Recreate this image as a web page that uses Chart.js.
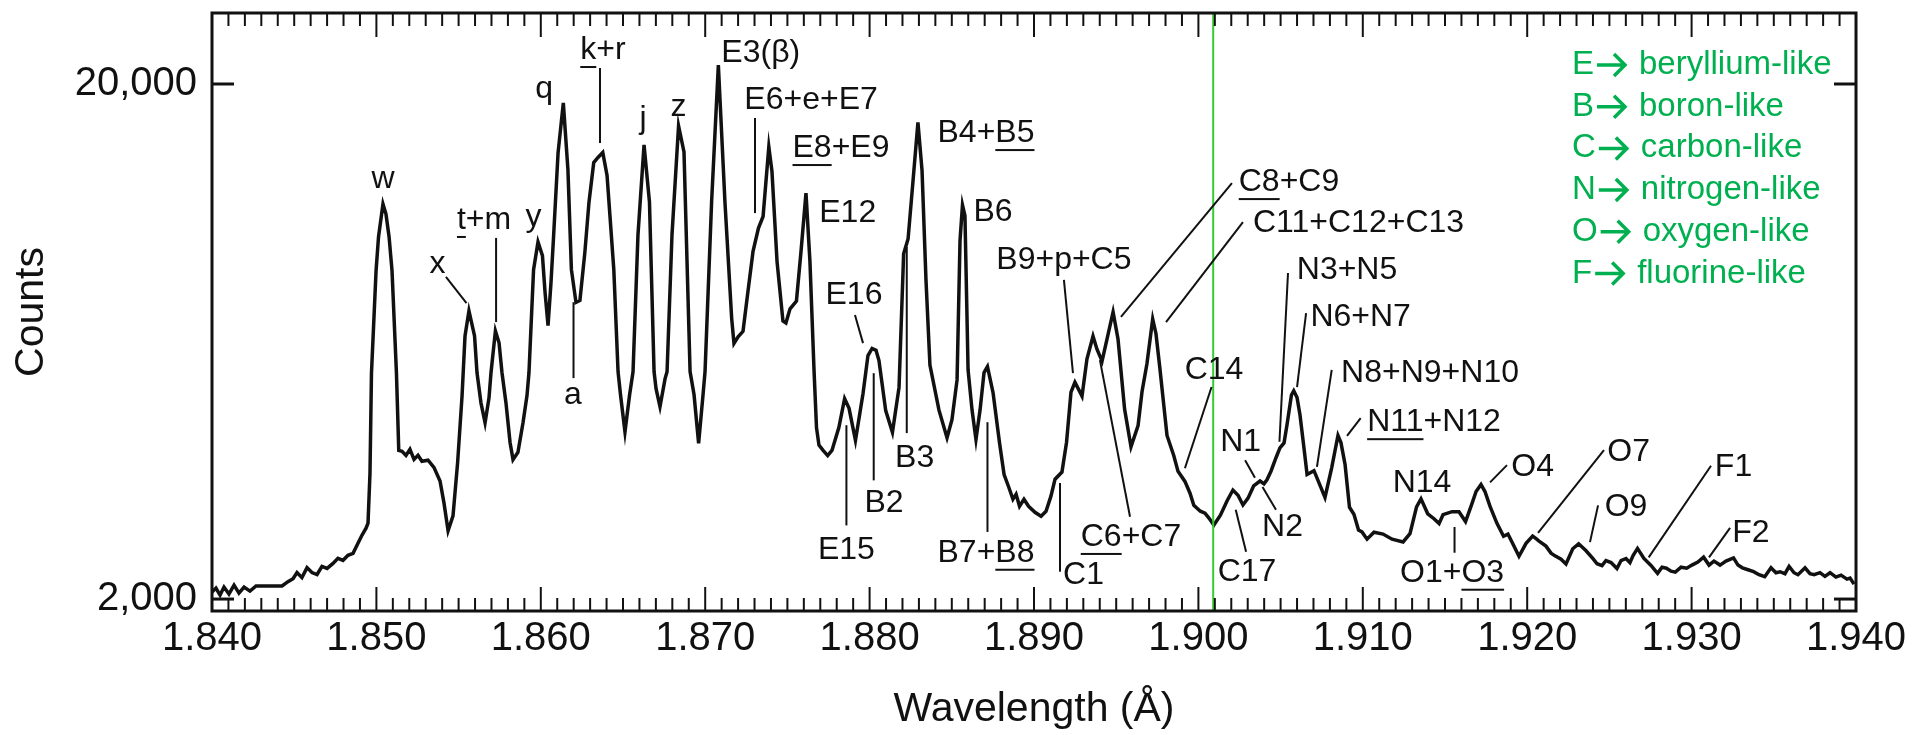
<!DOCTYPE html>
<html>
<head>
<meta charset="utf-8">
<script src="https://cdn.jsdelivr.net/npm/chart.js@4.4.1/dist/chart.umd.min.js"></script>
<style>
  html, body { margin: 0; padding: 0; background: #fff; }
  #wrap { width: 1916px; height: 735px; }
</style>
</head>
<body>
<div id="wrap"><canvas id="spectrum" width="1916" height="735"></canvas></div>
<script>
// ── Spectrum data (wavelength in Å, counts) ───────────────
const wavelength = [
  1.84000, 1.84024, 1.84049, 1.84073, 1.84103, 1.84134, 1.84164, 1.84195, 1.84231, 1.84268,
  1.84353, 1.84426, 1.84462, 1.84493, 1.84517, 1.84547, 1.84578, 1.84608, 1.84639, 1.84669,
  1.84700, 1.84736, 1.84766, 1.84797, 1.84827, 1.84858, 1.84882, 1.84912, 1.84937, 1.84949,
  1.84961, 1.84970, 1.84998, 1.85013, 1.85040, 1.85058, 1.85077, 1.85095, 1.85122, 1.85136,
  1.85156, 1.85180, 1.85204, 1.85229, 1.85253, 1.85277, 1.85314, 1.85350, 1.85387, 1.85411,
  1.85436, 1.85466, 1.85494, 1.85521, 1.85539, 1.85563, 1.85597, 1.85612, 1.85636, 1.85661,
  1.85685, 1.85697, 1.85724, 1.85746, 1.85764, 1.85788, 1.85813, 1.85831, 1.85861, 1.85892,
  1.85916, 1.85928, 1.85956, 1.85983, 1.86010, 1.86026, 1.86044, 1.86062, 1.86078, 1.86105,
  1.86137, 1.86165, 1.86186, 1.86214, 1.86238, 1.86268, 1.86293, 1.86322, 1.86348, 1.86377,
  1.86403, 1.86444, 1.86470, 1.86485, 1.86512, 1.86540, 1.86561, 1.86591, 1.86628, 1.86661,
  1.86689, 1.86701, 1.86725, 1.86756, 1.86768, 1.86798, 1.86838, 1.86871, 1.86908, 1.86932,
  1.86960, 1.86987, 1.86999, 1.87039, 1.87080, 1.87120, 1.87161, 1.87175, 1.87200, 1.87230,
  1.87260, 1.87291, 1.87324, 1.87352, 1.87387, 1.87406, 1.87437, 1.87473, 1.87491, 1.87516,
  1.87555, 1.87583, 1.87613, 1.87637, 1.87662, 1.87677, 1.87692, 1.87717, 1.87745, 1.87771,
  1.87813, 1.87848, 1.87875, 1.87914, 1.87960, 1.87990, 1.88015, 1.88039, 1.88057, 1.88098,
  1.88139, 1.88179, 1.88207, 1.88234, 1.88264, 1.88294, 1.88319, 1.88343, 1.88367, 1.88422,
  1.88471, 1.88501, 1.88532, 1.88550, 1.88565, 1.88580, 1.88599, 1.88623, 1.88647, 1.88672,
  1.88696, 1.88717, 1.88751, 1.88790, 1.88818, 1.88845, 1.88872, 1.88891, 1.88912, 1.88939,
  1.88967, 1.89006, 1.89043, 1.89073, 1.89103, 1.89128, 1.89170, 1.89198, 1.89225, 1.89249,
  1.89292, 1.89322, 1.89359, 1.89383, 1.89414, 1.89444, 1.89481, 1.89511, 1.89551, 1.89590,
  1.89633, 1.89657, 1.89687, 1.89722, 1.89742, 1.89766, 1.89809, 1.89850, 1.89876, 1.89918,
  1.89949, 1.89972, 1.90012, 1.90040, 1.90064, 1.90094, 1.90134, 1.90174, 1.90210, 1.90241,
  1.90271, 1.90302, 1.90336, 1.90375, 1.90399, 1.90417, 1.90442, 1.90472, 1.90496, 1.90521,
  1.90539, 1.90566, 1.90580, 1.90600, 1.90618, 1.90642, 1.90661, 1.90703, 1.90728, 1.90770,
  1.90811, 1.90849, 1.90867, 1.90892, 1.90919, 1.90946, 1.90974, 1.90995, 1.91026, 1.91068,
  1.91123, 1.91178, 1.91245, 1.91287, 1.91327, 1.91354, 1.91395, 1.91433, 1.91464, 1.91488,
  1.91543, 1.91585, 1.91625, 1.91664, 1.91689, 1.91719, 1.91743, 1.91774, 1.91816, 1.91856,
  1.91883, 1.91911, 1.91950, 1.91993, 1.92033, 1.92054, 1.92072, 1.92114, 1.92145, 1.92169,
  1.92206, 1.92236, 1.92277, 1.92313, 1.92358, 1.92400, 1.92425, 1.92455, 1.92479, 1.92510,
  1.92546, 1.92571, 1.92601, 1.92625, 1.92644, 1.92671, 1.92710, 1.92753, 1.92793, 1.92820,
  1.92847, 1.92875, 1.92901, 1.92936, 1.92970, 1.93002, 1.93038, 1.93073, 1.93106, 1.93136,
  1.93173, 1.93209, 1.93255, 1.93282, 1.93309, 1.93343, 1.93377, 1.93410, 1.93445, 1.93483,
  1.93513, 1.93538, 1.93568, 1.93593, 1.93623, 1.93647, 1.93690, 1.93720, 1.93745, 1.93781,
  1.93811, 1.93842, 1.93878, 1.93909, 1.93945, 1.93964, 1.93988
];

const counts = [
  2063, 2100, 2036, 2110, 2045, 2129, 2054, 2110, 2072, 2120,
  2120, 2120, 2162, 2191, 2251, 2201, 2302, 2252, 2232, 2314,
  2294, 2346, 2400, 2378, 2432, 2454, 2544, 2660, 2746, 2808,
  3510, 5484, 8684, 10106, 11700, 11196, 10106, 8684, 5484, 3888,
  3872, 3802, 3906, 3734, 3802, 3702, 3720, 3604, 3390, 3074,
  2714, 2902, 3680, 4960, 6482, 7254, 6484, 5498, 4808, 4400,
  4918, 5500, 6632, 6288, 5500, 4812, 4028, 3730, 3854, 4404,
  4968, 5500, 8722, 9870, 9284, 7872, 6790, 8230, 10150, 14704,
  18384, 13640, 8730, 7534, 7602, 9422, 11776, 14080, 14400, 14724,
  13292, 8736, 5520, 4980, 4224, 4980, 5522, 10178, 15240, 11794,
  5524, 5122, 4726, 5358, 5526, 10186, 16580, 14758, 5528, 4990,
  4012, 4992, 5530, 11812, 21760, 11816, 7016, 6270, 6460, 6620,
  7910, 9464, 10500, 11060, 15100, 13540, 9040, 6930, 6870, 7320,
  7580, 9480, 12280, 9060, 5560, 4304, 3980, 3888, 3798, 3886,
  4306, 4900, 4692, 4064, 5014, 5940, 6132, 6080, 5810, 4644,
  4214, 5152, 9360, 10000, 12960, 16840, 13580, 8320, 5694, 4654,
  4112, 4458, 5328, 9940, 11640, 11100, 5570, 4660, 4080, 4660,
  5504, 5656, 5030, 4026, 3490, 3308, 3124, 3196, 3028, 3124,
  3028, 2948, 2896, 2962, 3168, 3418, 3528, 4032, 5042, 5272,
  4954, 5848, 6476, 6110, 5794, 6394, 7218, 6394, 4676, 3950,
  4342, 5052, 5724, 6994, 6550, 5600, 4156, 3800, 3540, 3384,
  3210, 3042, 2962, 2936, 2872, 2784, 2910, 3100, 3256, 3182,
  3046, 3140, 3316, 3390, 3348, 3408, 3546, 3762, 3932, 4020,
  4358, 4980, 5076, 4926, 4554, 3934, 3490, 3550, 3396, 3150,
  3600, 4156, 4026, 3652, 3014, 2922, 2722, 2700, 2614, 2696,
  2674, 2614, 2582, 2678, 3020, 3130, 2928, 2864, 2802, 2916,
  2956, 2956, 2828, 3064, 3234, 3338, 3234, 3026, 2806, 2648,
  2674, 2566, 2422, 2566, 2650, 2620, 2592, 2534, 2456, 2426,
  2390, 2340, 2504, 2560, 2482, 2396, 2342, 2322, 2376, 2354,
  2292, 2376, 2398, 2354, 2430, 2508, 2398, 2324, 2244, 2306,
  2296, 2266, 2256, 2306, 2296, 2328, 2360, 2412, 2328, 2370,
  2328, 2370, 2404, 2328, 2300, 2280, 2260, 2230, 2210, 2300,
  2250, 2260, 2240, 2314, 2250, 2230, 2300, 2240, 2230, 2250,
  2214, 2250, 2206, 2226, 2186, 2196, 2138
];

// ── Axes ──────────────────────────────────────────────────
const xTickValues = [1.84, 1.85, 1.86, 1.87, 1.88, 1.89, 1.90, 1.91, 1.92, 1.93, 1.94];
const xMinorStep  = 0.001;
const yTickValues = [2000, 20000];
const xRange = [1.84, 1.94];
const yRange = [1896, 27470];
const markerWavelength = 1.9009;   // green vertical line

// ── Line identifications: [text, wavelength, counts, underlined part] ──
const peakLabels = [
  ['w', 1.85040, 13080], ['x', 1.85372, 8950], ['t+m', 1.85655, 10890, 't'],
  ['y', 1.85956, 11030], ['q', 1.86020, 19560], ['k+r', 1.86378, 23280, 'k'],
  ['j', 1.86622, 17100], ['z', 1.86838, 18040], ['a', 1.86196, 4980],
  ['E3(β)', 1.87338, 22960], ['E6+e+E7', 1.87644, 18620], ['E8+E9', 1.87826, 15020, 'E8'],
  ['E12', 1.87867, 11230], ['E16', 1.87905, 7790], ['E15', 1.87859, 2490],
  ['B2', 1.88088, 3070], ['B3', 1.88274, 3760], ['B4+B5', 1.88708, 16060, 'B5'],
  ['B6', 1.88751, 11280], ['B7+B8', 1.88708, 2460, 'B8'], ['B9+p+C5', 1.89182, 9100],
  ['C1', 1.89301, 2230], ['C6+C7', 1.89590, 2640, 'C6'], ['C8+C9', 1.90551, 12900, 'C8'],
  ['C11+C12+C13', 1.90974, 10740], ['C14', 1.90095, 5560], ['C17', 1.90296, 2260],
  ['N1', 1.90257, 4040], ['N2', 1.90512, 2760], ['N3+N5', 1.90904, 8700],
  ['N6+N7', 1.90987, 7060], ['N8+N9+N10', 1.91409, 5490], ['N11+N12', 1.91433, 4410, 'N11'],
  ['N14', 1.91360, 3360], ['O1+O3', 1.91543, 2250, 'O3'], ['O4', 1.92033, 3610],
  ['O7', 1.92617, 3860], ['O9', 1.92601, 3020], ['F1', 1.93255, 3610], ['F2', 1.93361, 2690]
];

// leader lines: [wavelength1, counts1, wavelength2, counts2]
const leaderLines = [
  [1.85423, 8440, 1.85548, 7510],   [1.85728, 10050, 1.85728, 6900],
  [1.86360, 21480, 1.86360, 15360], [1.86199, 7540, 1.86199, 5370],
  [1.87303, 17180, 1.87303, 11230], [1.87911, 7120, 1.87960, 6280],
  [1.87859, 4350, 1.87859, 2780],   [1.88025, 5490, 1.88025, 3400],
  [1.88226, 9650, 1.88226, 4200],   [1.88717, 4410, 1.88717, 2700],
  [1.89182, 8330, 1.89237, 5490],   [1.89158, 3360, 1.89158, 2260],
  [1.89401, 5820, 1.89584, 2890],   [1.90204, 12840, 1.89529, 7060],
  [1.90271, 10790, 1.89803, 6900],  [1.90080, 5160, 1.89918, 3590],
  [1.90545, 8590, 1.90493, 4040],   [1.90655, 7180, 1.90600, 5160],
  [1.90811, 5570, 1.90721, 3610],   [1.90987, 4490, 1.90904, 4150],
  [1.90284, 3720, 1.90344, 3440],   [1.90390, 3300, 1.90472, 2980],
  [1.90227, 2980, 1.90290, 2470],   [1.91774, 3370, 1.91877, 3640],
  [1.91558, 2760, 1.91558, 2460],   [1.92467, 3890, 1.92066, 2690],
  [1.92431, 3040, 1.92382, 2580],   [1.93118, 3630, 1.92739, 2410],
  [1.93234, 2750, 1.93106, 2410]
];

// legend: [isoelectronic letter, sequence name]
const legendKeys  = ['E', 'B', 'C', 'N', 'O', 'F'];
const legendNames = ['beryllium-like', 'boron-like', 'carbon-like', 'nitrogen-like', 'oxygen-like', 'fluorine-like'];

// ── Styling ───────────────────────────────────────────────
const FONT  = '"Liberation Sans", Arial, Helvetica, sans-serif';
const INK   = '#111111';
const GREEN = '#00b050';

Chart.defaults.font.family = FONT;
Chart.defaults.color = INK;

function seg(ctx, x1, y1, x2, y2) {
  ctx.beginPath();
  ctx.moveTo(x1, y1);
  ctx.lineTo(x2, y2);
  ctx.stroke();
}

function arrow(ctx, x0, cy) {
  ctx.beginPath();
  ctx.moveTo(x0, cy);
  ctx.lineTo(x0 + 28, cy);
  ctx.moveTo(x0 + 17, cy - 11);
  ctx.lineTo(x0 + 28, cy);
  ctx.lineTo(x0 + 17, cy + 11);
  ctx.stroke();
}

// frame, inward ticks, annotations and legend
const spectrumDecor = {
  id: 'spectrumDecor',
  afterDatasetsDraw(chart) {
    const { ctx, chartArea: area, scales: { x, y } } = chart;
    ctx.save();

    // green marker line
    const gx = x.getPixelForValue(markerWavelength);
    ctx.strokeStyle = '#33cc33';
    ctx.lineWidth = 2;
    seg(ctx, gx, area.top, gx, area.bottom);

    // leader lines
    ctx.strokeStyle = INK;
    ctx.lineWidth = 2;
    leaderLines.forEach(([w1, c1, w2, c2]) => {
      seg(ctx, x.getPixelForValue(w1), y.getPixelForValue(c1),
               x.getPixelForValue(w2), y.getPixelForValue(c2));
    });

    // labels
    ctx.fillStyle = INK;
    ctx.font = `32px ${FONT}`;
    ctx.textAlign = 'center';
    ctx.textBaseline = 'middle';
    peakLabels.forEach(([text, w, c, ul]) => {
      const px = x.getPixelForValue(w);
      const py = y.getPixelForValue(c);
      ctx.fillText(text, px, py);
      if (ul) {
        const full = ctx.measureText(text).width;
        const i    = text.indexOf(ul);
        const x0   = px - full / 2 + ctx.measureText(text.slice(0, i)).width;
        ctx.fillRect(x0, py + 16, ctx.measureText(ul).width, 2);
      }
    });

    // frame
    ctx.lineWidth = 3;
    ctx.strokeRect(area.left, area.top, area.right - area.left, area.bottom - area.top);

    // wavelength ticks, top and bottom, pointing inward
    ctx.lineWidth = 2;
    const nMinor = Math.round((xRange[1] - xRange[0]) / xMinorStep);
    for (let i = 0; i <= nMinor; i++) {
      const px  = x.getPixelForValue(xRange[0] + i * xMinorStep);
      const len = i % 10 === 0 ? 24 : 13;
      seg(ctx, px, area.bottom, px, area.bottom - len);
      seg(ctx, px, area.top, px, area.top + len);
    }
    // count ticks, left and right
    ctx.lineWidth = 3;
    yTickValues.forEach(v => {
      const py = y.getPixelForValue(v);
      seg(ctx, area.left, py, area.left + 22, py);
      seg(ctx, area.right, py, area.right - 22, py);
    });

    // legend
    ctx.fillStyle = GREEN;
    ctx.strokeStyle = GREEN;
    ctx.lineWidth = 3.5;
    ctx.font = `33px ${FONT}`;
    ctx.textAlign = 'left';
    const lx = area.right - 284;
    legendKeys.forEach((k, i) => {
      const cy = area.top + 52 + i * 41.7;
      ctx.fillText(k, lx, cy);
      const ax = lx + ctx.measureText(k).width + 3;
      arrow(ctx, ax, cy);
      ctx.fillText(legendNames[i], ax + 42, cy);
    });

    ctx.restore();
  }
};

new Chart(document.getElementById('spectrum'), {
  type: 'line',
  data: {
    datasets: [{
      data: wavelength.map((w, i) => ({ x: w, y: counts[i] })),
      borderColor: INK,
      borderWidth: 3.5,
      pointRadius: 0,
      tension: 0,
      fill: false
    }]
  },
  options: {
    responsive: false,
    animation: false,
    events: [],
    layout: { padding: { top: 13, right: 60, bottom: 0, left: 0 } },
    plugins: { legend: { display: false }, tooltip: { enabled: false } },
    scales: {
      x: {
        type: 'linear',
        min: xRange[0],
        max: xRange[1],
        grid: { display: false, drawTicks: false },
        border: { display: false },
        afterBuildTicks: axis => { axis.ticks = xTickValues.map(v => ({ value: v })); },
        afterFit: axis => { axis.height = 124; axis.paddingLeft = 0; axis.paddingRight = 0; },
        ticks: { font: { size: 40 }, padding: 4, maxRotation: 0, callback: v => v.toFixed(3) },
        title: { display: true, text: 'Wavelength (Å)', font: { size: 41 }, padding: { top: 0, bottom: 1 } }
      },
      y: {
        type: 'logarithmic',
        min: yRange[0],
        max: yRange[1],
        grid: { display: false, drawTicks: false },
        border: { display: false },
        afterBuildTicks: axis => { axis.ticks = yTickValues.map(v => ({ value: v })); },
        afterFit: axis => { axis.width = 212; axis.paddingTop = 0; axis.paddingBottom = 0; },
        ticks: { font: { size: 40 }, padding: 15, callback: v => v.toLocaleString('en-US') },
        title: { display: true, text: 'Counts', font: { size: 41 }, padding: { top: 7, bottom: 0 } }
      }
    }
  },
  plugins: [spectrumDecor]
});
</script>
</body>
</html>
